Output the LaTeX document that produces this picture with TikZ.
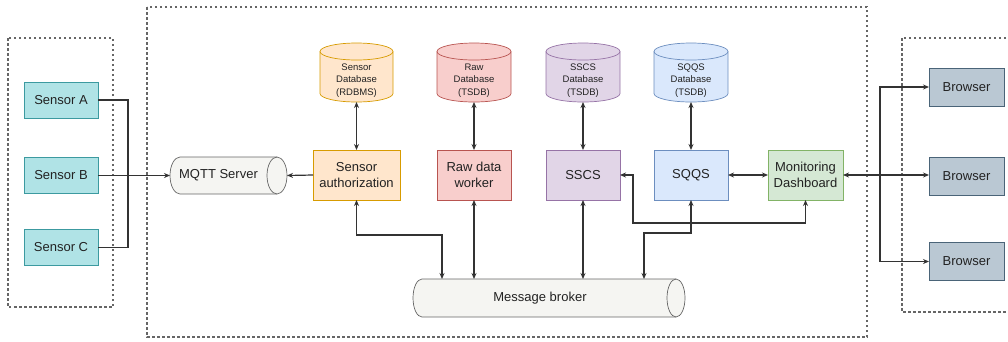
\documentclass[tikz,border=0pt]{standalone}
\usepackage{fontspec}
\setmainfont{Liberation Sans}
\usetikzlibrary{arrows.meta}

\definecolor{tlfill}{HTML}{B0E3E6}\definecolor{tlline}{HTML}{3C9AA0}
\definecolor{orfill}{HTML}{FFE6CC}\definecolor{orline}{HTML}{D79B00}
\definecolor{rdfill}{HTML}{F8CECC}\definecolor{rdline}{HTML}{B85450}
\definecolor{pufill}{HTML}{E1D5E7}\definecolor{puline}{HTML}{9673A6}
\definecolor{blfill}{HTML}{DAE8FC}\definecolor{blline}{HTML}{6C8EBF}
\definecolor{gnfill}{HTML}{D5E8D4}\definecolor{gnline}{HTML}{82B366}
\definecolor{brfill}{HTML}{BAC8D3}\definecolor{brline}{HTML}{4A6478}
\definecolor{gyfill}{HTML}{F5F5F2}\definecolor{gyline}{HTML}{666666}
\definecolor{lk}{HTML}{333333}
\definecolor{txt}{HTML}{222222}
\definecolor{fr}{HTML}{666666}

% vertical database cylinder: name, left, right, top, bottom, colour prefix, text
\newcommand{\dbcyl}[7]{%
  \path[fill=#6fill, draw=#6line, line width=0.7pt]
    (#2,#4+8.5) -- (#2,#5-8.5)
    arc[start angle=180, end angle=0, x radius={(#3-#2)/2}, y radius=8.5]
    -- (#3,#4+8.5)
    arc[start angle=0, end angle=-180, x radius={(#3-#2)/2}, y radius=8.5] -- cycle;
  \draw[draw=#6line, line width=0.7pt] (#2,#4+8.5)
    arc[start angle=180, end angle=0, x radius={(#3-#2)/2}, y radius=8.5];
  \node[anchorbox, minimum width={(#3-#2)*1pt}, minimum height={(#5-#4)*1pt}]
    (#1) at ({(#2+#3)/2},{(#4+#5)/2}) {};
  \node[dbtext] (#1-label) at ({(#2+#3)/2},{(#4+#5)/2+8}) {#7};
}

% horizontal cylinder: name, left, right, top, bottom, cap radius, text
\newcommand{\hcyl}[7]{%
  \path[fill=gyfill, draw=gyline, line width=0.7pt]
    (#2+#6,#4) -- (#3-#6,#4)
    arc[start angle=-90, end angle=90, x radius=#6, y radius={(#5-#4)/2}]
    -- (#2+#6,#5)
    arc[start angle=90, end angle=270, x radius=#6, y radius={(#5-#4)/2}] -- cycle;
  \draw[draw=gyline, line width=0.7pt] (#3-#6,#4)
    arc[start angle=-90, end angle=-270, x radius=#6, y radius={(#5-#4)/2}];
  \node[anchorbox, minimum width={(#3-#2)*1pt}, minimum height={(#5-#4)*1pt}]
    (#1) at ({(#2+#3)/2},{(#4+#5)/2}) {};
  \node[boxtext] (#1-label) at ({(#2+#3)/2-#6},{(#4+#5)/2}) {#7};
}

\begin{document}
\begin{tikzpicture}[x=1pt, y=-1pt,
  anchorbox/.style={inner sep=0pt, outer sep=0pt},
  boxtext/.style={inner sep=0pt, align=center, text=txt,
    font=\fontsize{13}{16}\selectfont},
  dbtext/.style={inner sep=0pt, align=center, text=txt,
    font=\fontsize{9.5}{12.5}\selectfont},
  box/.style={boxtext, draw, line width=0.7pt, minimum height=50pt, outer sep=0pt},
  sensorbox/.style={box, fill=tlfill, draw=tlline, minimum width=74pt, minimum height=36pt},
  browserbox/.style={box, fill=brfill, draw=brline, minimum width=75pt, minimum height=38pt},
  link/.style={draw=lk, line width=1.2pt},
  tip/.style={arrows={-Stealth[length=6pt,width=5pt]}},
  tips/.style={arrows={Stealth[length=6pt,width=5pt]-Stealth[length=6pt,width=5pt]}},
  frame/.style={draw=fr, line width=1.3pt, dash pattern=on 2.5pt off 2.5pt}]

\useasboundingbox (0,0) rectangle (1008,341);
\clip (0,0) rectangle (1008,341);

% dashed groupings
\draw[frame] (8,38) rectangle (113,307);
\draw[frame] (147,7) rectangle (867,337);
\draw[frame] (902,38) rectangle (1030,312);

% sensors
\node[sensorbox] (sa) at (61,100) {Sensor A};
\node[sensorbox] (sb) at (61,175.5) {Sensor B};
\node[sensorbox] (sc) at (61,247.5) {Sensor C};

% message transport
\hcyl{mqtt}{170}{287}{157}{194}{10}{MQTT Server}
\hcyl{broker}{413}{685}{279}{317}{9}{Message broker}

% databases
\dbcyl{sdb}{320}{393}{43}{102}{or}{Sensor\\Database\\(RDBMS)}
\dbcyl{rdb}{437}{511}{43}{102}{rd}{Raw\\Database\\(TSDB)}
\dbcyl{cdb}{546}{620}{43}{102}{pu}{SSCS\\Database\\(TSDB)}
\dbcyl{qdb}{654}{728}{43}{102}{bl}{SQQS\\Database\\(TSDB)}

% services
\node[box, fill=orfill, draw=orline, minimum width=87pt] (sauth) at (356.5,175) {Sensor\\authorization};
\node[box, fill=rdfill, draw=rdline, minimum width=74pt] (raw) at (474,175) {Raw data\\worker};
\node[box, fill=pufill, draw=puline, minimum width=74pt] (sscs) at (583,175) {SSCS};
\node[box, fill=blfill, draw=blline, minimum width=74pt] (sqqs) at (691,175) {SQQS};
\node[box, fill=gnfill, draw=gnline, minimum width=75pt] (dash) at (805.5,175) {Monitoring\\Dashboard};

% browsers
\node[browserbox] (br1) at (966.5,87) {Browser};
\node[browserbox] (br2) at (966.5,176.5) {Browser};
\node[browserbox] (br3) at (966.5,261.5) {Browser};

% sensors to MQTT
\coordinate (merge) at (128,175.5);
\draw[link] (sa.east) -| (merge);
\draw[link] (sc.east) -| (merge);
\draw[link, tip] (sb.east) -- (mqtt.west);
\draw[link, tip] (sauth.west) -- (mqtt.east);

% services to their databases
\draw[link, tips] (sdb.south) -- (sauth.north);
\draw[link, tips] (rdb.south) -- (raw.north);
\draw[link, tips] (cdb.south) -- (sscs.north);
\draw[link, tips] (qdb.south) -- (sqqs.north);

% services to the broker
\coordinate (bendA) at (442,235);
\coordinate (bendQ) at (644,233);
\coordinate (bendD) at (633,223);
\draw[link, tips] (sauth.south) |- (bendA) -- (bendA |- broker.north);
\draw[link, tips] (raw.south) -- (raw.south |- broker.north);
\draw[link, tips] (sscs.south) -- (sscs.south |- broker.north);
\draw[link, tips] (dash.south) |- (bendD) |- (sscs.east);
\draw[link, tips] (sqqs.south) |- (bendQ) -- (bendQ |- broker.north);

% dashboard links
\draw[link, tips] (sqqs.east) -- (dash.west);
\coordinate (split) at (880,175);
\draw[link, tips] (dash.east) -- (dash.east -| br2.west);
\draw[link, tip] (split) |- (br1.west);
\draw[link, tip] (split) |- (br3.west);
\end{tikzpicture}
\end{document}
